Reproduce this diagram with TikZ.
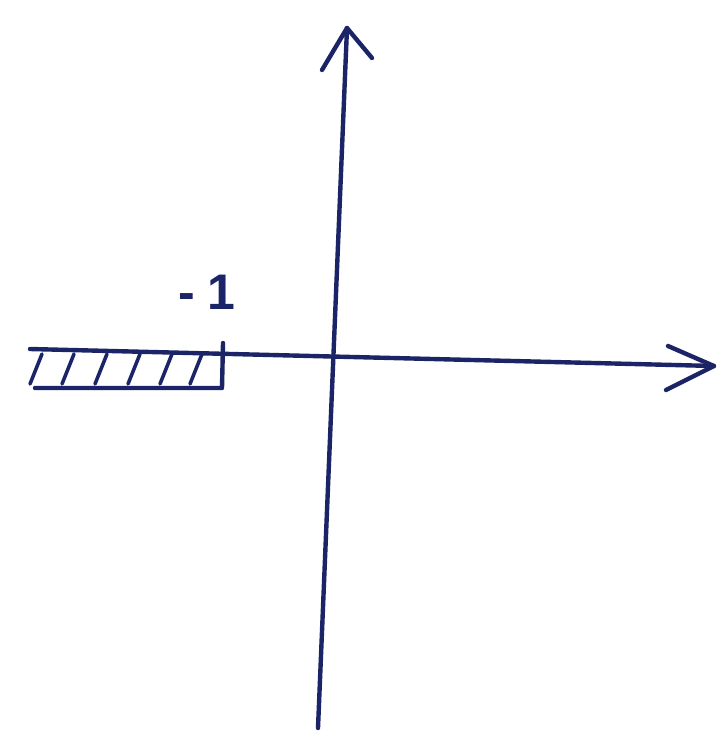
\documentclass[tikz,border=0pt]{standalone}
\usepackage{fontspec}
\setmainfont{Liberation Sans}
\definecolor{ink}{HTML}{1B2466}
\tikzset{
  pen/.style={draw=ink, line width=4.4pt, line cap=round, line join=round},
  thinpen/.style={draw=ink, line width=3.6pt, line cap=round},
}
\begin{document}
\begin{tikzpicture}[x=1pt,y=-1pt]
\useasboundingbox (0,0) rectangle (728,740);
% axis coordinates
\coordinate (ybot) at (318,728);
\coordinate (ytop) at (347,28);
\coordinate (xleft) at (30,349);
\coordinate (xright) at (714,366);
% vertical axis
\draw[pen] (ybot) -- (ytop);
\draw[pen] (322,70) -- (ytop) -- (372,58);
% horizontal axis
\draw[pen] (xleft) -- (xright);
\draw[pen] (668,346) -- (xright) -- (666,390);
% shaded interval
\draw[pen] (35,388) -- (222,388) -- (223,343);
\foreach \x in {30,62,95,128,160,190}{
  \draw[thinpen] (\x+12,354) -- (\x,384);
}
% label
\node[text=ink, font=\fontsize{50}{50}\selectfont\bfseries] (lbl) at (207,292) {-\hspace{12pt}1};
\end{tikzpicture}
\end{document}
